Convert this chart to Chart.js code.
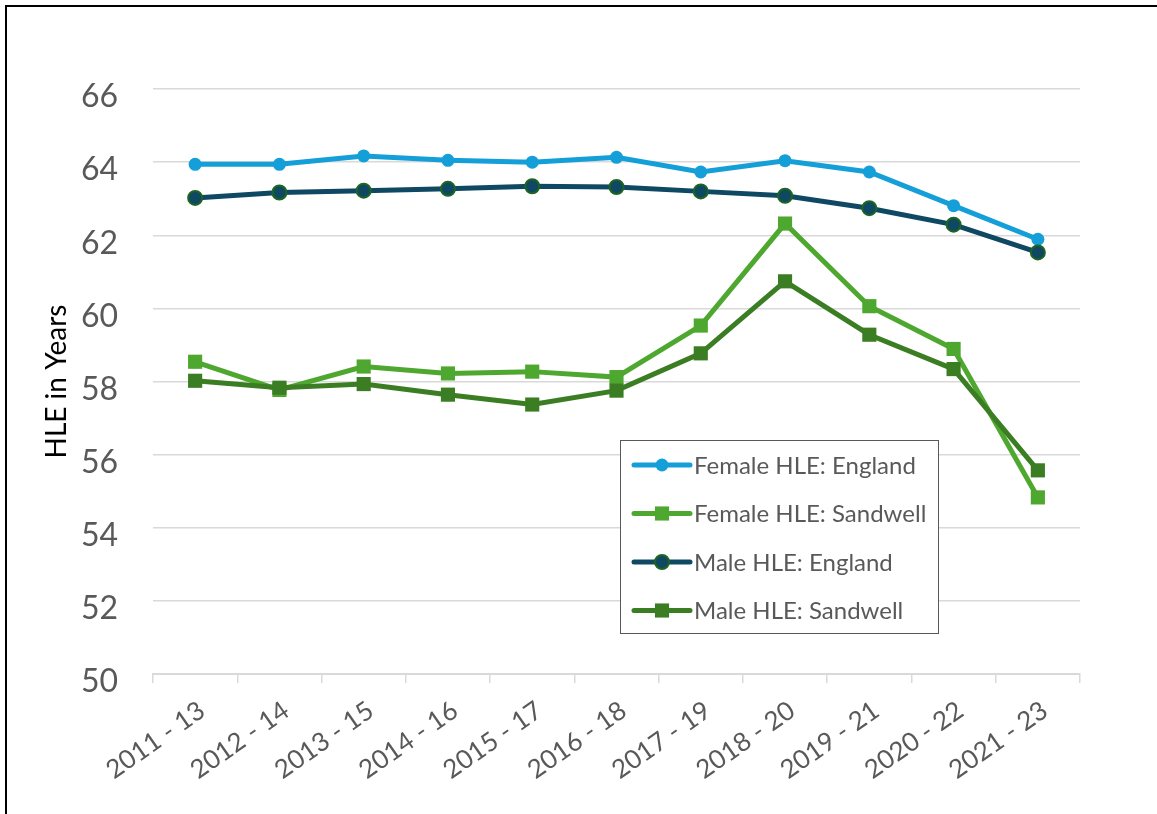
<!DOCTYPE html>
<html>
<head>
<meta charset="utf-8">
<script src="https://cdn.jsdelivr.net/npm/chart.js@4.4.1/dist/chart.umd.min.js"></script>
<style>
  html, body { margin: 0; padding: 0; background: #fff; }
  #wrap { position: relative; width: 1157px; height: 814px; overflow: hidden; }
  #frame { position: absolute; left: 5px; top: 5px; right: -10px; bottom: -10px;
           border-top: 2px solid #000; border-left: 2px solid #000; pointer-events: none; }
  canvas { position: absolute; left: 0; top: 0; }
</style>
</head>
<body>
<div id="wrap">
  <canvas id="c" width="1157" height="814"></canvas>
  <div id="frame"></div>
</div>
<script>
const categories = ['2011 - 13', '2012 - 14', '2013 - 15', '2014 - 16', '2015 - 17', '2016 - 18',
                    '2017 - 19', '2018 - 20', '2019 - 21', '2020 - 22', '2021 - 23'];
const femaleEngland  = [63.94, 63.94, 64.17, 64.05, 64.00, 64.13, 63.73, 64.04, 63.73, 62.81, 61.89];
const femaleSandwell = [58.54, 57.77, 58.41, 58.22, 58.27, 58.12, 59.53, 62.32, 60.06, 58.89, 54.83];
const maleEngland    = [63.02, 63.17, 63.22, 63.27, 63.34, 63.32, 63.20, 63.08, 62.74, 62.29, 61.53];
const maleSandwell   = [58.02, 57.83, 57.93, 57.64, 57.37, 57.75, 58.77, 60.74, 59.28, 58.34, 55.57];
const seriesNames = ['Female HLE: England', 'Female HLE: Sandwell', 'Male HLE: England', 'Male HLE: Sandwell'];
const yTicks = [50, 52, 54, 56, 58, 60, 62, 64, 66];

const FONT = 'Lato';

const hleLegend = {
  id: 'hleLegend',
  afterDraw(chart, args, o) {
    const ctx = chart.ctx;
    ctx.save();
    ctx.fillStyle = '#ffffff';
    ctx.fillRect(o.x, o.y, o.w, o.h);
    ctx.strokeStyle = '#595959';
    ctx.lineWidth = 1;
    ctx.strokeRect(o.x + 0.5, o.y + 0.5, o.w, o.h);
    chart.data.datasets.forEach((ds, i) => {
      const cy = o.y + o.firstRow + i * o.rowGap;
      ctx.strokeStyle = ds.borderColor;
      ctx.lineWidth = ds.borderWidth;
      ctx.lineCap = 'round';
      ctx.beginPath();
      ctx.moveTo(o.x + o.lineStart, cy);
      ctx.lineTo(o.x + o.lineEnd, cy);
      ctx.stroke();
      const mx = o.x + (o.lineStart + o.lineEnd) / 2;
      ctx.fillStyle = ds.pointBackgroundColor;
      ctx.strokeStyle = ds.pointBorderColor;
      ctx.lineWidth = ds.pointBorderWidth;
      ctx.beginPath();
      if (ds.pointStyle === 'rect') {
        const s = Math.SQRT1_2 * ds.pointRadius;
        ctx.rect(mx - s, cy - s, 2 * s, 2 * s);
      } else {
        ctx.arc(mx, cy, ds.pointRadius, 0, Math.PI * 2);
      }
      ctx.fill();
      if (ds.pointBorderWidth > 0) ctx.stroke();
      ctx.fillStyle = '#595959';
      ctx.font = o.fontSize + 'px ' + FONT;
      ctx.textBaseline = 'middle';
      ctx.textAlign = 'left';
      ctx.fillText(ds.label, o.x + o.textX, cy + 1);
    });
    ctx.restore();
  }
};

new Chart(document.getElementById('c'), {
  type: 'line',
  data: {
    labels: categories,
    datasets: [
      { label: seriesNames[0], data: femaleEngland, borderColor: '#159fd8', backgroundColor: '#159fd8',
        borderWidth: 5, pointStyle: 'circle', pointRadius: 6.5, pointBackgroundColor: '#159fd8',
        pointBorderColor: '#159fd8', pointBorderWidth: 0, tension: 0, order: 4 },
      { label: seriesNames[1], data: femaleSandwell, borderColor: '#4ea72e', backgroundColor: '#4ea72e',
        borderWidth: 5, pointStyle: 'rect', pointRadius: 10, pointBackgroundColor: '#4ea72e',
        pointBorderColor: '#4ea72e', pointBorderWidth: 0, tension: 0, order: 3 },
      { label: seriesNames[2], data: maleEngland, borderColor: '#0e4862', backgroundColor: '#0e4862',
        borderWidth: 5, pointStyle: 'circle', pointRadius: 7, pointBackgroundColor: '#0e4862',
        pointBorderColor: '#1e6422', pointBorderWidth: 2, tension: 0, order: 2 },
      { label: seriesNames[3], data: maleSandwell, borderColor: '#3b7d23', backgroundColor: '#3b7d23',
        borderWidth: 5, pointStyle: 'rect', pointRadius: 10, pointBackgroundColor: '#3b7d23',
        pointBorderColor: '#3b7d23', pointBorderWidth: 0, tension: 0, order: 1 }
    ]
  },
  options: {
    responsive: false,
    animation: false,
    events: [],
    layout: { padding: { top: 89, right: 77, bottom: 0, left: 8 } },
    plugins: {
      legend: { display: false },
      tooltip: { enabled: false },
      hleLegend: { x: 620, y: 440, w: 318, h: 193, firstRow: 25, rowGap: 48.5,
                   lineStart: 14, lineEnd: 70, textX: 74, fontSize: 24 }
    },
    scales: {
      x: {
        offset: true,
        grid: { offset: true, drawOnChartArea: false, drawTicks: true, tickLength: 9,
                color: '#d9d9d9', lineWidth: 1.5 },
        border: { color: '#d9d9d9', width: 2 },
        ticks: { color: '#595959', font: { family: FONT, size: 26 }, minRotation: 35, maxRotation: 35,
                 autoSkip: false, padding: 12, labelOffset: 7 },
        afterFit(s) { s.height = 140; }
      },
      y: {
        min: 50, max: 66,
        afterBuildTicks(s) { s.ticks = yTicks.map(v => ({ value: v })); },
        ticks: { color: '#595959', font: { family: FONT, size: 32 }, padding: 35, labelOffset: 8 },
        grid: { color: '#d9d9d9', lineWidth: 1.5, drawTicks: false },
        border: { display: false },
        title: { display: true, text: 'HLE in Years', color: '#000000',
                 font: { family: FONT, size: 28 }, padding: { top: 32, bottom: 0 } },
        afterFit(s) { s.width = 145; }
      }
    }
  },
  plugins: [hleLegend]
});
</script>
</body>
</html>
